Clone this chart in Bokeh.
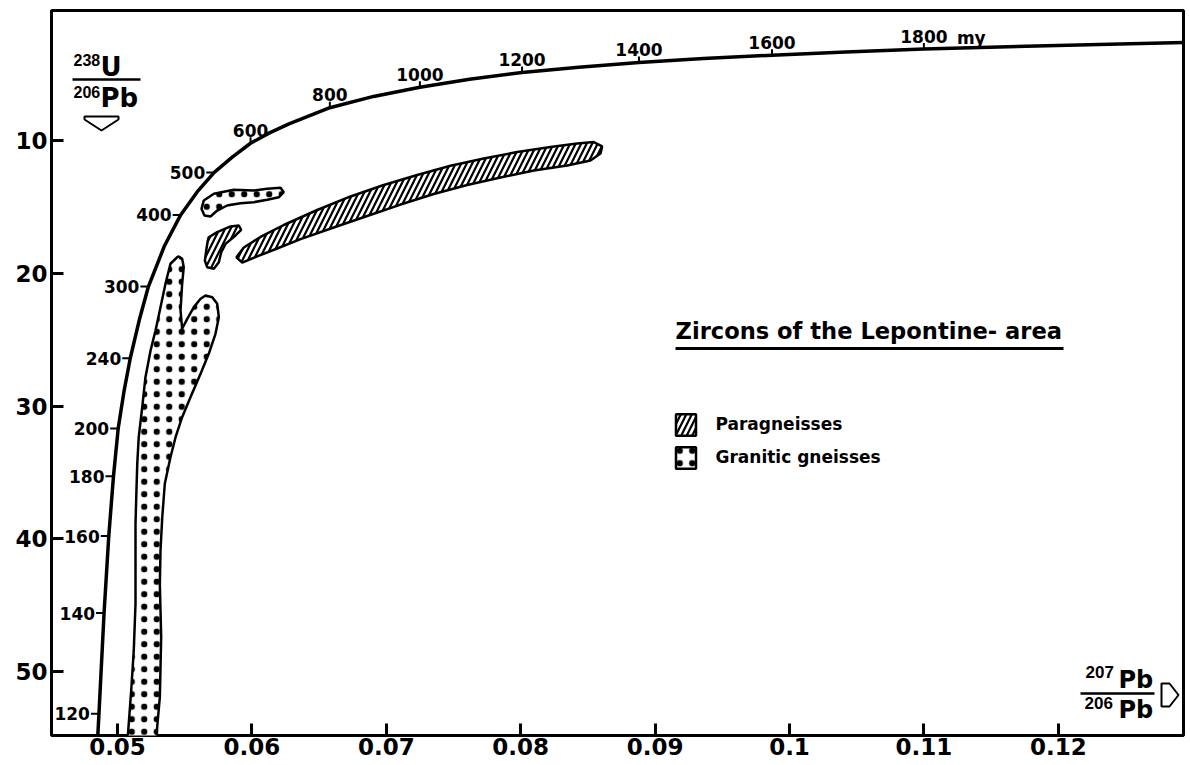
from bokeh.plotting import figure
from bokeh.models import Range1d, FixedTicker, Label, Legend, LegendItem
from bokeh.core.properties import value
from bokeh.embed import file_html
from bokeh.resources import INLINE

# ---------------- data ----------------
x_ticks = [0.05, 0.06, 0.07, 0.08, 0.09, 0.10, 0.11, 0.12]
x_tick_labels = ["0.05", "0.06", "0.07", "0.08", "0.09", "0.1", "0.11", "0.12"]
y_ticks = [10, 20, 30, 40, 50]
y_tick_labels = ["10", "20", "30", "40", "50"]

# concordia curve (207Pb/206Pb , 238U/206Pb)
concordia_x = [0.04850, 0.04862, 0.04900, 0.04935, 0.04970, 0.05005, 0.05050, 0.05095,
               0.05165, 0.05230, 0.05350, 0.05470, 0.05594, 0.05720, 0.05854, 0.05990,
               0.06131, 0.06276, 0.06580, 0.06905, 0.07250, 0.07619, 0.08010, 0.08432,
               0.08880, 0.09360, 0.09870, 0.10418, 0.11000, 0.11629, 0.12300, 0.13010]
concordia_y = [55.5, 53.2, 45.6, 39.8, 35.3, 31.7, 28.8, 26.4,
               23.4, 21.0, 17.92, 15.6, 13.85, 12.4, 11.24, 10.2,
               9.42, 8.74, 7.52, 6.67, 5.98, 5.38, 4.87, 4.47,
               4.12, 3.82, 3.56, 3.32, 3.10, 2.92, 2.75, 2.60]

# age marks on the concordia (my)
age_low = ["120", "140", "160", "180", "200", "240", "300", "400", "500"]
age_low_x = [0.04862, 0.04900, 0.04935, 0.04970, 0.05005, 0.05095, 0.05230, 0.05470, 0.05720]
age_low_y = [53.2, 45.6, 39.8, 35.3, 31.7, 26.4, 21.0, 15.6, 12.4]
age_high = ["600", "800", "1000", "1200", "1400", "1600", "1800"]
age_high_x = [0.05990, 0.06580, 0.07250, 0.08010, 0.08880, 0.09870, 0.11000]
age_high_y = [10.2, 7.52, 5.98, 4.87, 4.12, 3.56, 3.10]

# Paragneisses (hatched fields)
para_band_x = [0.05885, 0.05940, 0.06064, 0.06237, 0.06486, 0.06734, 0.06981, 0.07230,
               0.07478, 0.07725, 0.07974, 0.08222, 0.08420, 0.08544, 0.08606, 0.08594,
               0.08519, 0.08346, 0.08098, 0.07850, 0.07602, 0.07353, 0.07106, 0.06858,
               0.06609, 0.06362, 0.06188, 0.06039, 0.05928]
para_band_y = [18.79, 18.06, 17.26, 16.36, 15.23, 14.21, 13.35, 12.59,
               11.90, 11.35, 10.86, 10.48, 10.22, 10.11, 10.44, 10.97,
               11.50, 11.88, 12.25, 12.78, 13.35, 14.02, 14.82, 15.68,
               16.55, 17.42, 18.13, 18.73, 19.19]
para_blob_x = [0.05679, 0.05742, 0.05841, 0.05903, 0.05920, 0.05878, 0.05804,
               0.05772, 0.05754, 0.05717, 0.05667, 0.05650, 0.05662, 0.05672]
para_blob_y = [17.28, 16.90, 16.47, 16.40, 16.72, 17.15, 17.78,
               18.41, 19.16, 19.66, 19.54, 19.04, 18.15, 17.53]

# Granitic gneisses (dotted fields)
gran_small_x = [0.05642, 0.05717, 0.05865, 0.06014, 0.06114, 0.06213, 0.06237, 0.06200,
                0.06114, 0.06014, 0.05915, 0.05816, 0.05742, 0.05692, 0.05647, 0.05625]
gran_small_y = [14.51, 14.01, 13.71, 13.76, 13.63, 13.56, 13.89, 14.27,
                14.46, 14.64, 14.72, 14.89, 15.27, 15.72, 15.64, 15.14]
gran_big_x = [0.05444, 0.05394, 0.05357, 0.05320, 0.05283, 0.05246, 0.05208, 0.05184,
              0.05158, 0.05147, 0.05141, 0.05134, 0.05134, 0.05134, 0.05121, 0.05102,
              0.05080, 0.05071, 0.05290, 0.05295, 0.05315, 0.05320, 0.05325, 0.05320,
              0.05315, 0.05320, 0.05333, 0.05352, 0.05394, 0.05432, 0.05481, 0.05543,
              0.05618, 0.05679, 0.05729, 0.05754, 0.05742, 0.05705, 0.05655, 0.05618,
              0.05568, 0.05519, 0.05481, 0.05469, 0.05481, 0.05493, 0.05481, 0.05456]
gran_big_y = [18.79, 19.28, 20.79, 22.55, 24.31, 25.82, 27.83, 30.09,
              32.35, 34.36, 36.37, 38.88, 42.15, 44.90, 48.42, 51.44,
              54.45, 55.58, 55.58, 54.21, 51.94, 49.68, 47.42, 45.41,
              43.40, 40.89, 38.38, 35.86, 33.86, 32.35, 30.84, 29.34,
              27.57, 26.07, 24.56, 23.31, 22.30, 21.80, 21.67, 21.92,
              22.55, 23.43, 24.18, 22.80, 20.79, 19.54, 18.91, 18.73]

title_text = "Zircons of the Lepontine- area"
legend_labels = ["Paragneisses", "Granitic gneisses"]

# ---------------- layout helpers (reference pixels -> data) ----------------
def dx(px):
    return 0.05 + (px - 117.0) / 13440.0

def dy(py):
    return (py - 7.4) / 13.27

W, H = 1188, 764
F_LEFT, F_TOP, F_RIGHT, F_BOTTOM = 51, 10, 1183, 735
X_PER_PX = 1.0 / 13440.0
Y_PER_PX = 1.0 / 13.27

FONT = value("DejaVu Sans")

p = figure(width=W, height=H, output_backend="svg", toolbar_location=None,
           x_range=Range1d(dx(F_LEFT), dx(F_RIGHT)), y_range=Range1d(dy(F_BOTTOM), dy(F_TOP)),
           min_border=0, min_border_left=F_LEFT, min_border_top=F_TOP,
           min_border_right=W - F_RIGHT, min_border_bottom=H - F_BOTTOM)
p.background_fill_color = "white"
p.border_fill_color = "white"
p.outline_line_color = "black"
p.outline_line_width = 3
p.grid.visible = False

for ax, ticks, labels, so in ((p.xaxis[0], x_ticks, x_tick_labels, 2),
                              (p.yaxis[0], y_ticks, y_tick_labels, 4)):
    ax.ticker = FixedTicker(ticks=ticks)
    ax.major_label_overrides = {t: l for t, l in zip(ticks, labels)}
    ax.axis_line_color = None
    ax.major_tick_in = 12
    ax.major_tick_out = 0
    ax.major_tick_line_width = 3
    ax.major_tick_line_color = "black"
    ax.minor_tick_line_color = None
    ax.major_label_text_font = "DejaVu Sans"
    ax.major_label_text_font_style = "bold"
    ax.major_label_text_font_size = "23px"
    ax.major_label_text_color = "black"
    ax.major_label_standoff = so

# fields
r_para = p.patches(xs=[para_band_x, para_blob_x], ys=[para_band_y, para_blob_y],
                   fill_color="white", line_color="black", line_width=2.5,
                   hatch_pattern="/", hatch_scale=11, hatch_weight=2.2, hatch_color="black")
r_gran = p.patches(xs=[gran_small_x, gran_big_x], ys=[gran_small_y, gran_big_y],
                   fill_color="white", line_color="black", line_width=2.5,
                   hatch_pattern=".", hatch_scale=12.5, hatch_weight=3, hatch_color="black")

# concordia
p.line(concordia_x, concordia_y, line_color="black", line_width=3.5)

# age ticks
p.segment(x0=[x - 8 * X_PER_PX for x in age_low_x], y0=age_low_y,
          x1=age_low_x, y1=age_low_y, line_color="black", line_width=2)
p.segment(x0=age_high_x, y0=[y - 6 * Y_PER_PX for y in age_high_y],
          x1=age_high_x, y1=age_high_y, line_color="black", line_width=2)
p.text(x=age_low_x, y=age_low_y, text=age_low, text_align="right", text_baseline="middle",
       x_offset=-9, text_font=FONT, text_font_style="bold", text_font_size="17px",
       text_color="black")
p.text(x=age_high_x, y=age_high_y, text=age_high, text_align="center",
       text_baseline="middle", y_offset=-13, text_font=FONT, text_font_style="bold",
       text_font_size="17px", text_color="black")
p.text(x=[age_high_x[-1]], y=[age_high_y[-1]], text=["my"], text_align="left",
       text_baseline="middle", x_offset=33, y_offset=-11, text_font=FONT,
       text_font_style="bold", text_font_size="17px", text_color="black")

# title + underline
p.add_layout(Label(x=dx(675), y=dy(330), text=title_text, text_align="left",
                   text_baseline="middle", text_font="DejaVu Sans",
                   text_font_style="bold", text_font_size="22.6px", text_color="black"))
p.line([dx(675), dx(1063)], [dy(348), dy(348)], line_color="black", line_width=3)

# axis quantity labels (fractions)
def lab(px, py, txt, size, font="DejaVu Sans"):
    p.add_layout(Label(x=dx(px), y=dy(py), text=txt, text_align="left",
                       text_baseline="middle", text_font=font,
                       text_font_style="bold", text_font_size=size, text_color="black"))

SUP = "Liberation Sans"
lab(73, 59, "238", "16px", SUP)
lab(100, 66, "U", "26px")
lab(73, 91, "206", "16px", SUP)
lab(100, 97, "Pb", "26px")
p.line([dx(72), dx(140)], [dy(79), dy(79)], line_color="black", line_width=2.5)
p.patch([dx(84), dx(118), dx(118), dx(101), dx(84)],
        [dy(116), dy(116), dy(119), dy(130), dy(119)],
        fill_color="white", line_color="black", line_width=2)

lab(1085, 671.5, "207", "17px", SUP)
lab(1118, 679, "Pb", "24px")
lab(1084, 702.5, "206", "17px", SUP)
lab(1118, 709, "Pb", "24px")
p.line([dx(1080), dx(1154)], [dy(693), dy(693)], line_color="black", line_width=2.5)
p.patch([dx(1161), dx(1169), dx(1178), dx(1169), dx(1161)],
        [dy(683), dy(683), dy(694.5), dy(706), dy(706)],
        fill_color="white", line_color="black", line_width=2)

# legend
legend = Legend(items=[LegendItem(label=legend_labels[0], renderers=[r_para]),
                       LegendItem(label=legend_labels[1], renderers=[r_gran])],
                location=(672.5 - F_LEFT, F_BOTTOM - 470.5),
                border_line_color=None, background_fill_alpha=0, padding=0, margin=0,
                spacing=6, glyph_width=25, glyph_height=27, label_standoff=18,
                label_text_font="DejaVu Sans", label_text_font_style="bold",
                label_text_font_size="17px", label_text_color="black")
p.add_layout(legend)

open("out.html", "w").write(file_html(p, INLINE))
